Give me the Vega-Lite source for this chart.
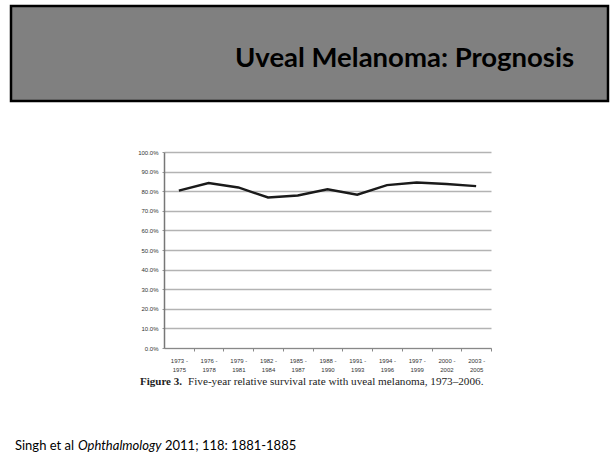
{
  "$schema": "https://vega.github.io/schema/vega-lite/v6.json",
  "autosize": "none",
  "width": 327,
  "height": 196,
  "padding": {"left": 164, "top": 152, "right": 119, "bottom": 104},
  "background": "white",
  "config": {"view": {"stroke": null}},
  "layer": [
    {
      "data": {"values": [{}]},
      "mark": {"type": "rect", "x": -153, "x2": 444, "y": -146, "y2": -51, "fill": "#808080", "stroke": "#000000", "strokeWidth": 2.5},
      "encoding": {}
    },
    {
      "data": {"values": [{}]},
      "mark": {"type": "rule", "x": -153, "x2": -153, "y": -146, "y2": 300, "stroke": "#000000", "strokeWidth": 2.5},
      "encoding": {}
    },
    {
      "data": {"values": [{}]},
      "mark": {"type": "rule", "x": 444, "x2": 444, "y": -146, "y2": 300, "stroke": "#000000", "strokeWidth": 2.5},
      "encoding": {}
    },
    {
      "data": {"values": [{"t": "Uveal Melanoma: Prognosis"}]},
      "mark": {"type": "text", "x": 410, "y": -85, "align": "right", "baseline": "alphabetic", "font": "Lato", "fontWeight": "bold", "fontSize": 27.5, "color": "#000000"},
      "encoding": {"text": {"field": "t"}}
    },
    {
      "data": {"values": [{"t": "Figure 3."}]},
      "mark": {"type": "text", "x": -24, "y": 233, "align": "left", "baseline": "alphabetic", "font": "Liberation Serif", "fontWeight": "bold", "fontSize": 11, "color": "#222222"},
      "encoding": {"text": {"field": "t"}}
    },
    {
      "data": {"values": [{"t": "Five-year relative survival rate with uveal melanoma, 1973–2006."}]},
      "mark": {"type": "text", "x": 24, "y": 233, "align": "left", "baseline": "alphabetic", "font": "Liberation Serif", "fontSize": 11.2, "color": "#222222"},
      "encoding": {"text": {"field": "t"}}
    },
    {
      "data": {"values": [{"t": "Singh et al"}]},
      "mark": {"type": "text", "x": -149, "y": 298, "align": "left", "baseline": "alphabetic", "font": "Lato", "fontSize": 13, "color": "#000000"},
      "encoding": {"text": {"field": "t"}}
    },
    {
      "data": {"values": [{"t": "Ophthalmology"}]},
      "mark": {"type": "text", "x": -86, "y": 298, "align": "left", "baseline": "alphabetic", "font": "Lato", "fontStyle": "italic", "fontSize": 13, "color": "#000000"},
      "encoding": {"text": {"field": "t"}}
    },
    {
      "data": {"values": [{"t": "2011; 118: 1881-1885"}]},
      "mark": {"type": "text", "x": 1, "y": 298, "align": "left", "baseline": "alphabetic", "font": "Lato", "fontSize": 13, "color": "#000000"},
      "encoding": {"text": {"field": "t"}}
    },
    {
      "data": {"values": [
        {"period": "1973-1975", "rate": 0.803},
        {"period": "1976-1978", "rate": 0.842},
        {"period": "1979-1981", "rate": 0.819},
        {"period": "1982-1984", "rate": 0.768},
        {"period": "1985-1987", "rate": 0.778},
        {"period": "1988-1990", "rate": 0.81},
        {"period": "1991-1993", "rate": 0.782},
        {"period": "1994-1996", "rate": 0.831},
        {"period": "1997-1999", "rate": 0.844},
        {"period": "2000-2002", "rate": 0.837},
        {"period": "2003-2005", "rate": 0.826}
      ]},
      "mark": {"type": "line", "color": "#1a1a1a", "strokeWidth": 2.4},
      "encoding": {
        "x": {
          "field": "period", "type": "ordinal", "sort": null,
          "scale": {"padding": 0.5},
          "axis": {
            "title": null, "labelAngle": 0, "labelFont": "Liberation Sans", "labelFontSize": 6, "labelColor": "#333333",
            "labelExpr": "[slice(datum.value, 0, 4) + ' -', slice(datum.value, 5)]",
            "labelPadding": 6, "labelLineHeight": 9,
            "domainColor": "#888888", "domainWidth": 1.2,
            "tickOffset": 14.85, "labelOffset": -14.85, "tickSize": 3, "tickColor": "#888888",
            "grid": false
          }
        },
        "y": {
          "field": "rate", "type": "quantitative",
          "scale": {"domain": [0, 1], "nice": false},
          "axis": {
            "title": null, "values": [0, 0.1, 0.2, 0.3, 0.4, 0.5, 0.6, 0.7, 0.8, 0.9, 1.0],
            "format": ".1%", "labelFont": "Liberation Sans", "labelFontSize": 6, "labelColor": "#333333",
            "labelPadding": 4, "tickSize": 2, "tickColor": "#999999",
            "domainColor": "#777777", "domainWidth": 1.5,
            "grid": true, "gridColor": "#b3b3b3", "gridWidth": 1.5
          }
        }
      }
    }
  ]
}
